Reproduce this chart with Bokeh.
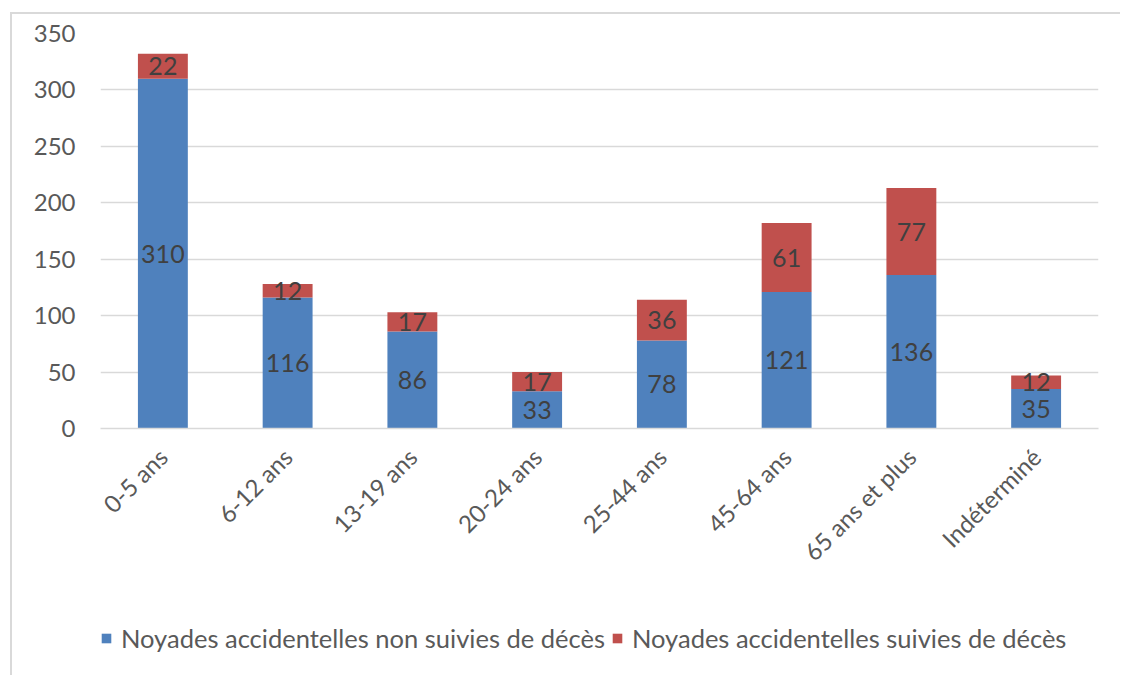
from math import pi
from bokeh.plotting import figure
from bokeh.layouts import column
from bokeh.models import ColumnDataSource, Legend, LegendItem, Range1d, FactorRange
from bokeh.core.properties import value
from bokeh.embed import file_html
from bokeh.resources import INLINE

categories = ["0-5 ans", "6-12 ans", "13-19 ans", "20-24 ans", "25-44 ans",
              "45-64 ans", "65 ans et plus", "Indéterminé"]
non_deces = [310, 116, 86, 33, 78, 121, 136, 35]
deces = [22, 12, 17, 17, 36, 61, 77, 12]
series_names = ["Noyades accidentelles non suivies de décès",
                "Noyades accidentelles suivies de décès"]
y_ticks = [0, 50, 100, 150, 200, 250, 300, 350]

BLUE = "#4f81bd"
RED = "#c0504d"
GRID = "#d9d9d9"
TXT = "#595959"
LBL = "#404040"
FONT = "Lato"

src = ColumnDataSource(dict(
    cat=categories,
    a=non_deces,
    b=deces,
    a_mid=[v / 2 for v in non_deces],
    b_mid=[a + b / 2 for a, b in zip(non_deces, deces)],
    a_txt=[str(v) for v in non_deces],
    b_txt=[str(v) for v in deces],
))

p = figure(x_range=FactorRange(*categories), y_range=Range1d(0, 350),
           width=1108, height=599, output_backend="svg", toolbar_location=None,
           min_border_left=88, min_border_right=22, min_border_top=19,
           min_border_bottom=185)
p.outline_line_color = None
p.x_range.range_padding = 0
p.x_range.group_padding = 0

r1 = p.vbar_stack(["a", "b"], x="cat", width=0.4, source=src,
                  color=[BLUE, RED], line_color=None)

p.text(x="cat", y="a_mid", text="a_txt", source=src, text_align="center",
       text_baseline="middle", text_font=value(FONT), text_font_size="25px",
       text_color=LBL)
p.text(x="cat", y="b_mid", text="b_txt", source=src, text_align="center",
       text_baseline="middle", text_font=value(FONT), text_font_size="25px",
       text_color=LBL)

p.xgrid.grid_line_color = None
p.ygrid.grid_line_color = GRID
p.ygrid.grid_line_width = 1.5
p.yaxis.ticker = y_ticks
p.yaxis.axis_line_color = None
p.yaxis.major_tick_line_color = None
p.yaxis.minor_tick_line_color = None
p.yaxis.major_tick_out = 0
p.yaxis.major_label_standoff = 25
p.yaxis.major_label_text_font = FONT
p.yaxis.major_label_text_font_size = "24px"
p.yaxis.major_label_text_color = TXT

p.xaxis.axis_line_color = GRID
p.xaxis.axis_line_width = 1.5
p.xaxis.major_tick_line_color = None
p.xaxis.major_tick_out = 0
p.xaxis.major_label_orientation = pi / 4
p.xaxis.major_label_standoff = 24
p.xaxis.major_label_text_font = FONT
p.xaxis.major_label_text_font_size = "24px"
p.xaxis.major_label_text_color = TXT

# legend strip (separate figure so the legend sits low, like the original)
lg = figure(width=1108, height=62, output_backend="svg", toolbar_location=None,
            x_range=FactorRange(*categories), y_range=Range1d(0, 350),
            min_border=0, x_axis_type=None, y_axis_type=None)
lg.outline_line_color = None
lg.grid.visible = False
r2 = lg.vbar_stack(["a", "b"], x="cat", width=0.4, source=src,
                   color=[BLUE, RED], line_color=None)
for r in r2:
    r.visible = False
legend = Legend(items=[LegendItem(label=series_names[0], renderers=[r2[0]]),
                       LegendItem(label=series_names[1], renderers=[r2[1]])],
                orientation="horizontal", location=(0, 22),
                label_text_font=FONT, label_text_font_size="25.5px",
                label_text_color=TXT, glyph_width=12, glyph_height=12,
                label_standoff=9, spacing=6, border_line_color=None,
                background_fill_alpha=0, margin=0, padding=0,
                inactive_fill_alpha=0, click_policy="none")
lg.add_layout(legend, "center")

layout = column(p, lg, spacing=0)
layout.styles = {"border-top": "2px solid #d9d9d9", "border-left": "2px solid #d9d9d9",
                 "margin-left": "10px", "margin-top": "12px"}

open("out.html", "w").write(file_html(layout, INLINE))
